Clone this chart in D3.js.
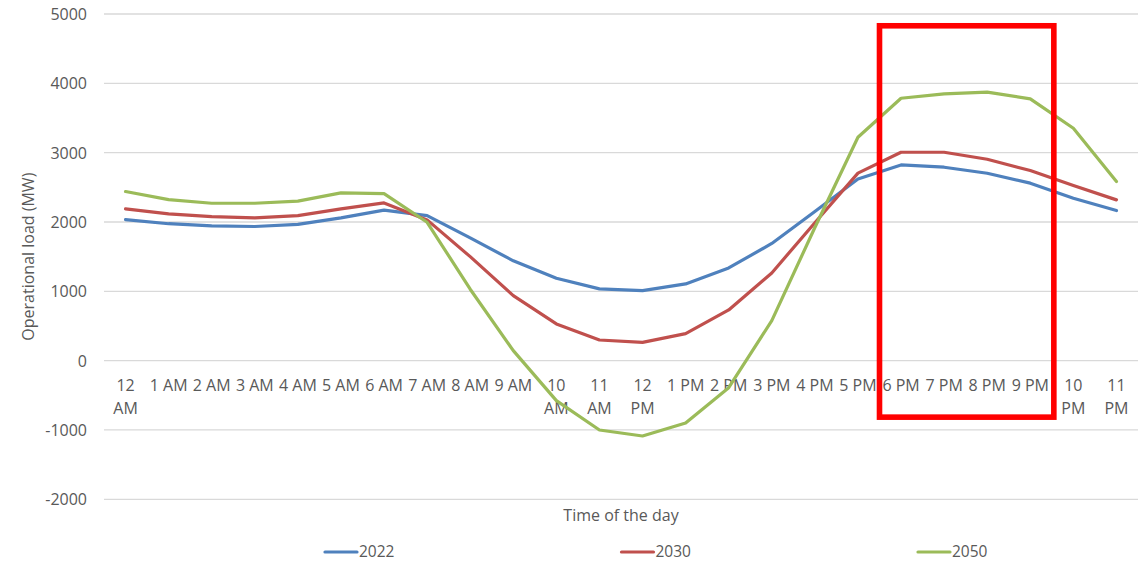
<!DOCTYPE html>
<html>
<head>
<meta charset="utf-8">
<script src="https://cdn.jsdelivr.net/npm/d3@7"></script>
<style>
  html, body { margin: 0; padding: 0; background: #ffffff; }
  svg { display: block; }
  text { font-family: "Open Sans", "Noto Sans", sans-serif; fill: #595959; }
</style>
</head>
<body>
<svg id="chart" width="1148" height="562"></svg>
<script>
// Hours of the day (category axis)
const hours = ["12 AM", "1 AM", "2 AM", "3 AM", "4 AM", "5 AM", "6 AM", "7 AM", "8 AM", "9 AM",
  "10 AM", "11 AM", "12 PM", "1 PM", "2 PM", "3 PM", "4 PM", "5 PM", "6 PM", "7 PM",
  "8 PM", "9 PM", "10 PM", "11 PM"];

// Operational load (MW) per hour
const load2022 = [2035, 1975, 1945, 1935, 1965, 2060, 2170, 2092, 1770, 1440, 1188, 1035,
  1010, 1107, 1337, 1690, 2150, 2620, 2823, 2790, 2703, 2560, 2342, 2165];
const load2030 = [2188, 2117, 2078, 2060, 2092, 2188, 2275, 2030, 1500, 938, 530, 298,
  264, 390, 731, 1265, 1990, 2705, 3006, 3006, 2905, 2742, 2525, 2319];
const load2050 = [2439, 2323, 2270, 2270, 2300, 2420, 2410, 1996, 1030, 144, -577, -1000,
  -1087, -900, -390, 577, 1920, 3222, 3785, 3848, 3872, 3776, 3352, 2583];

const seriesNames = ["2022", "2030", "2050"];
const seriesColors = ["#4F81BD", "#C0504D", "#9BBB59"];
const yTicks = [-2000, -1000, 0, 1000, 2000, 3000, 4000, 5000];

// Evening peak highlight: hour span and load span
const peakHours = ["6 PM", "9 PM"];
const peakLoad = [4830, -815];

const series = [load2022, load2030, load2050].map((vals, i) => ({
  name: seriesNames[i], color: seriesColors[i], values: vals
}));

const svg = d3.select("#chart");
const plot = { left: 104, right: 1138, top: 14, bottom: 499.3 };

const x = d3.scaleBand().domain(hours).range([plot.left, plot.right]).paddingInner(0).paddingOuter(0);
const xc = h => x(h) + x.bandwidth() / 2;
const y = d3.scaleLinear().domain([-2000, 5000]).range([plot.bottom, plot.top]);

// Horizontal gridlines
svg.append("g").selectAll("line").data(yTicks).join("line")
  .attr("x1", plot.left).attr("x2", plot.right)
  .attr("y1", d => y(d)).attr("y2", d => y(d))
  .attr("stroke", "#d9d9d9").attr("stroke-width", 1.3);

// Y axis labels (plain hyphen for negatives)
const yAxis = svg.append("g").attr("transform", `translate(${plot.left},0)`)
  .call(d3.axisLeft(y).tickValues(yTicks).tickSize(0).tickPadding(17).tickFormat(d => String(d)));
yAxis.select(".domain").remove();
yAxis.selectAll("text").attr("font-size", 16).attr("fill", "#595959")
  .attr("font-family", "'Open Sans', sans-serif").attr("dy", "0.34em");

// X axis labels (long labels wrap onto two lines)
const xLabels = svg.append("g");
hours.forEach(h => {
  const parts = h.length > 4 ? h.split(" ") : [h];
  const t = xLabels.append("text")
    .attr("x", xc(h)).attr("y", y(0) + 30.5)
    .attr("text-anchor", "middle").attr("font-size", 16);
  parts.forEach((p, i) => {
    t.append("tspan").attr("x", xc(h)).attr("dy", i === 0 ? 0 : 22.6).text(p);
  });
});

// Lines
const line = d3.line().x((d, i) => xc(hours[i])).y(d => y(d));
svg.append("g").selectAll("path").data(series).join("path")
  .attr("d", d => line(d.values))
  .attr("fill", "none")
  .attr("stroke", d => d.color)
  .attr("stroke-width", 3.2)
  .attr("stroke-linejoin", "round")
  .attr("stroke-linecap", "round");

// Evening peak highlight box
svg.append("rect")
  .attr("x", x(peakHours[0]))
  .attr("y", y(peakLoad[0]))
  .attr("width", x(peakHours[1]) + x.bandwidth() - x(peakHours[0]) + 2)
  .attr("height", y(peakLoad[1]) - y(peakLoad[0]))
  .attr("fill", "none")
  .attr("stroke", "#ff0000")
  .attr("stroke-width", 5.6);

// Axis titles
svg.append("text")
  .attr("transform", `translate(34,${(plot.top + plot.bottom) / 2}) rotate(-90)`)
  .attr("text-anchor", "middle").attr("font-size", 16)
  .text("Operational load (MW)");

svg.append("text")
  .attr("x", 621).attr("y", 520.5)
  .attr("text-anchor", "middle").attr("font-size", 16)
  .text("Time of the day");

// Legend
const legend = svg.append("g").attr("transform", "translate(325,552)");
const lg = legend.selectAll("g").data(series).join("g")
  .attr("transform", (d, i) => `translate(${i * 296.5},0)`);
lg.append("line").attr("x1", 0).attr("x2", 32).attr("y1", 0).attr("y2", 0)
  .attr("stroke", d => d.color).attr("stroke-width", 3.2).attr("stroke-linecap", "round");
lg.append("text").attr("x", 34).attr("y", 4.8).attr("font-size", 15.5).text(d => d.name);
</script>
</body>
</html>
